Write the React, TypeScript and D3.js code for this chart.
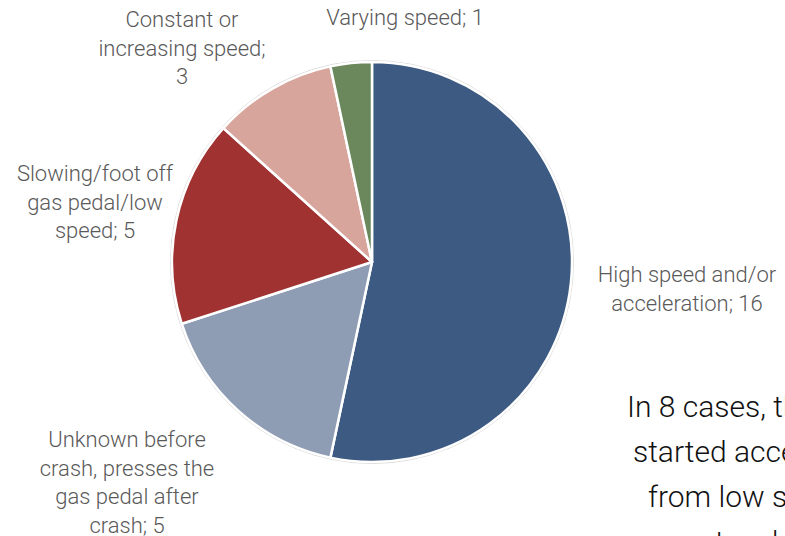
import React from "react";
import * as d3 from "d3";

const categories = [
  "High speed and/or acceleration",
  "Unknown before crash, presses the gas pedal after crash",
  "Slowing/foot off gas pedal/low speed",
  "Constant or increasing speed",
  "Varying speed",
];
const counts = [16, 5, 5, 3, 1];
const colors = ["#3d5a82", "#8e9db4", "#a03332", "#d7a59c", "#6a885c"];

// Wrapped label lines for each slice, with anchor positions
const labelLines = [
  ["High speed and/or", "acceleration; 16"],
  ["Unknown before", "crash, presses the", "gas pedal after", "crash; 5"],
  ["Slowing/foot off", "gas pedal/low", "speed; 5"],
  ["Constant or", "increasing speed;", "3"],
  ["Varying speed; 1"],
];
const labelAnchors: [number, number][] = [
  [687, 282],
  [127, 447],
  [95, 181],
  [182, 27],
  [405, 25],
];

// Side note, one entry per line with its left edge
const noteLines = [
  "In 8 cases, the driver",
  "started accelerating",
  "from low speed",
  "to a high speed",
];
const noteLineX = [627, 633, 648, 715];

const W = 785;
const H = 536;
const cx = 372;
const cy = 262;
const R = 200;

export default function App() {
  const pie = d3
    .pie<number>()
    .sort(null)
    .value((d) => d)
    .startAngle(0)
    .endAngle(2 * Math.PI);
  const arcs = pie(counts);
  const arc = d3.arc<d3.PieArcDatum<number>>().innerRadius(0).outerRadius(R);

  return (
    <svg
      width={W}
      height={H}
      style={{ position: "absolute", left: 0, top: 0, background: "#fff" }}
      fontFamily="Roboto, 'Open Sans', sans-serif"
    >
      <g transform={`translate(${cx},${cy})`}>
        <circle r={R + 1.5} fill="none" stroke="#d9d9d9" strokeWidth={1} />
        {arcs.map((a, i) => (
          <path
            key={categories[i]}
            d={arc(a) || ""}
            fill={colors[i]}
            stroke="#fff"
            strokeWidth={2.5}
            strokeLinejoin="round"
          />
        ))}
      </g>
      {labelLines.map((lines, i) => (
        <text
          key={i}
          x={labelAnchors[i][0]}
          y={labelAnchors[i][1]}
          textAnchor="middle"
          fontSize={22}
          fontWeight={300}
          fill="#595959"
        >
          {lines.map((l, j) => (
            <tspan key={j} x={labelAnchors[i][0]} dy={j === 0 ? 0 : 28.5}>
              {l}
            </tspan>
          ))}
        </text>
      ))}
      <text y={417} fontSize={30} fontWeight={300} fill="#111">
        {noteLines.map((l, j) => (
          <tspan key={j} x={noteLineX[j]} dy={j === 0 ? 0 : 45}>
            {l}
          </tspan>
        ))}
      </text>
    </svg>
  );
}
